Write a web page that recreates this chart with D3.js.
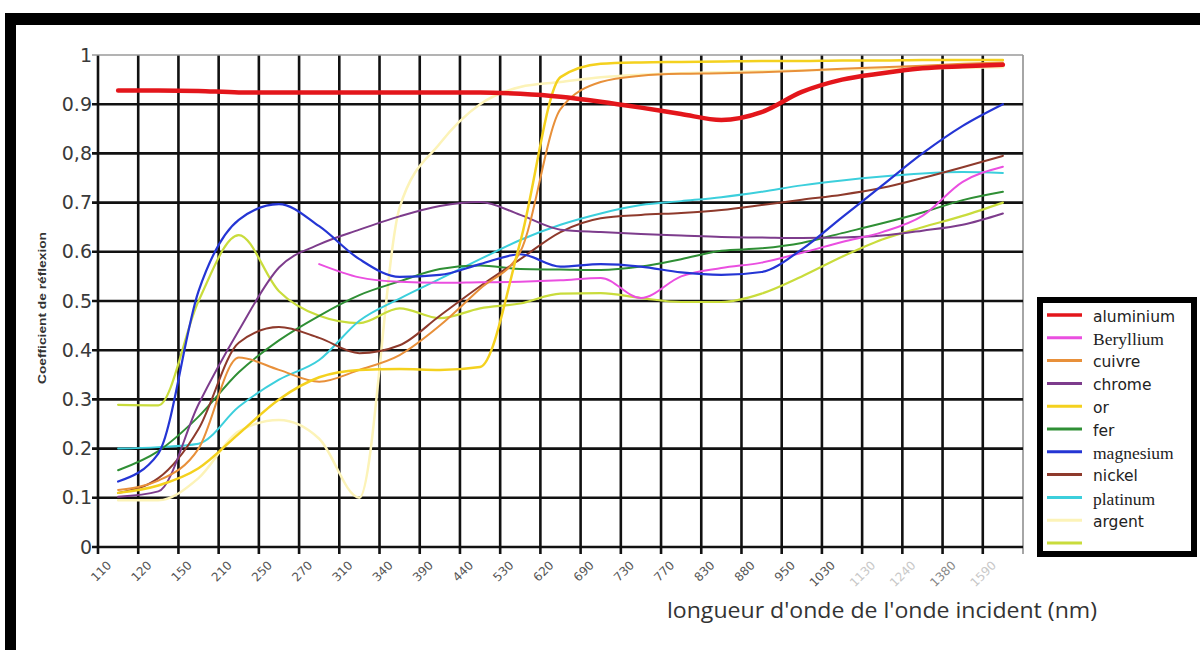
<!DOCTYPE html>
<html>
<head>
<meta charset="utf-8">
<script src="https://cdn.jsdelivr.net/npm/d3@7/dist/d3.min.js"></script>
<style>
  html, body { margin: 0; padding: 0; background: #fff; }
  svg { display: block; }
</style>
</head>
<body>
<svg id="chart" width="1200" height="650"></svg>
<script>
// Wavelength categories (nm) on the horizontal axis
const categories = ["110","120","150","210","250","270","310","340","390","440","530","620",
                    "690","730","770","830","880","950","1030","1130","1240","1380","1590"];

// Reflection coefficient per metal, one value per wavelength category
const aluminium = [0.928,0.928,0.927,0.924,0.924,0.924,0.924,0.924,0.924,0.924,0.921,0.915,
                   0.905,0.893,0.880,0.868,0.884,0.925,0.950,0.963,0.973,0.977,0.980];
const beryllium = [null,null,null,null,null,0.575,0.548,0.539,0.537,0.538,0.539,0.542,
                   0.547,0.506,0.550,0.567,0.578,0.598,0.620,0.640,0.673,0.742,0.773];
const cuivre    = [0.116,0.135,0.200,0.385,0.360,0.336,0.360,0.390,0.450,0.525,0.600,0.890,
                   0.945,0.958,0.962,0.963,0.965,0.968,0.972,0.975,0.978,0.982,0.985];
const chrome    = [0.102,0.113,0.290,0.440,0.568,0.615,0.645,0.672,0.693,0.701,0.675,0.645,
                   0.640,0.636,0.633,0.630,0.629,0.628,0.629,0.633,0.643,0.655,0.678];
const or        = [0.110,0.125,0.160,0.230,0.300,0.345,0.360,0.362,0.360,0.366,0.620,0.955,
                   0.982,0.985,0.986,0.987,0.988,0.988,0.989,0.989,0.990,0.990,0.990];
const fer       = [0.156,0.195,0.265,0.355,0.420,0.470,0.512,0.540,0.565,0.572,0.565,0.564,
                   0.563,0.570,0.585,0.602,0.607,0.618,0.638,0.658,0.680,0.705,0.722];
const magnesium = [0.133,0.190,0.520,0.665,0.697,0.652,0.585,0.549,0.553,0.575,0.595,0.570,
                   0.575,0.570,0.558,0.553,0.559,0.605,0.670,0.735,0.800,0.856,0.900];
const nickel    = [0.110,0.140,0.240,0.415,0.447,0.425,0.394,0.410,0.470,0.530,0.585,0.640,
                   0.668,0.675,0.679,0.685,0.695,0.706,0.716,0.730,0.750,0.772,0.795];
const platinum  = [0.200,0.203,0.210,0.285,0.340,0.380,0.460,0.505,0.545,0.585,0.624,0.655,
                   0.678,0.695,0.703,0.711,0.722,0.735,0.745,0.753,0.759,0.762,0.760];
const argent    = [0.095,0.095,0.140,0.235,0.258,0.220,0.100,0.690,0.820,0.900,0.935,0.945,
                   0.955,0.960,0.963,0.965,0.967,0.969,0.970,0.972,0.973,0.974,0.975];
const autre     = [0.289,0.288,0.500,0.634,0.520,0.470,0.455,0.485,0.465,0.485,0.495,0.515,
                   0.516,0.506,0.498,0.498,0.515,0.550,0.590,0.625,0.650,0.673,0.700];

const seriesNames = ["aluminium","Beryllium","cuivre","chrome","or","fer","magnesium",
                     "nickel","platinum","argent",""];
const seriesValues = [aluminium, beryllium, cuivre, chrome, or, fer, magnesium,
                      nickel, platinum, argent, autre];

// Vertical axis ticks and their printed labels
const yTicks = [0,0.1,0.2,0.3,0.4,0.5,0.6,0.7,0.8,0.9,1];
const yTickLabels = ["0","0.1","0.2","0.3","0.4","0.5","0.6","0.7","0,8","0.9","1"];

// Drawing styles
const colors = ["#e3161b","#ea4fe0","#e8903a","#7d3c8c","#f4d11e","#2f8f35","#2435d4",
                "#8e3a2c","#3ccfdc","#fcf3b8","#c9dc3c"];
const widths = [4.5,2,2,2,2.5,2,2.2,2,2,2.5,2.2];
const legendFonts = ["sans","serif","sans","sans","sans","sans","serif","sans","serif","sans","sans"];
const faintTicks = {"1130":"#c8c8c8","1240":"#c8c8c8","1380":"#888","1590":"#c8c8c8"};

const svg = d3.select("#chart");

// Outer frame
svg.append("rect").attr("x",5).attr("y",13).attr("width",1195).attr("height",12).attr("fill","#000");
svg.append("rect").attr("x",5).attr("y",13).attr("width",11).attr("height",637).attr("fill","#000");

const plot = {left: 98, right: 1023, top: 55, bottom: 547};

const x = d3.scaleBand().domain(categories).range([plot.left, plot.right]);
const y = d3.scaleLinear().domain([0,1]).range([plot.bottom, plot.top]);
const cx = c => x(c) + x.bandwidth()/2;

// Grid
const grid = svg.append("g");
const edges = categories.map(c => x(c)).concat([plot.right]);
grid.selectAll("line.v").data(edges).join("line")
  .attr("x1", d => d).attr("x2", d => d)
  .attr("y1", plot.top).attr("y2", plot.bottom + 7)
  .attr("stroke", (d,i) => i === edges.length - 1 ? "#888" : "#111")
  .attr("stroke-width", (d,i) => i === edges.length - 1 ? 1.5 : 2.6);
grid.selectAll("line.h").data(yTicks).join("line")
  .attr("x1", plot.left - 6).attr("x2", plot.right)
  .attr("y1", d => y(d)).attr("y2", d => y(d))
  .attr("stroke", d => d === 1 ? "#9a9a9a" : "#111")
  .attr("stroke-width", d => d === 1 ? 1.5 : 2.6);

// Y tick labels
svg.append("g").selectAll("text").data(yTicks).join("text")
  .attr("x", 92).attr("y", d => y(d))
  .attr("dy", "0.35em")
  .attr("text-anchor", "end")
  .attr("font-family", "'DejaVu Sans', sans-serif")
  .attr("font-size", 19)
  .attr("fill", "#3a3a3a")
  .text((d,i) => yTickLabels[i]);

// X tick labels, rotated
svg.append("g").selectAll("text").data(categories).join("text")
  .attr("transform", c => `translate(${cx(c) - 6},${plot.bottom + 19}) rotate(-45)`)
  .attr("text-anchor", "end")
  .attr("font-family", "'DejaVu Sans', sans-serif")
  .attr("font-size", 12)
  .attr("fill", c => faintTicks[c] || "#555")
  .text(c => c);

// Axis titles
svg.append("text")
  .attr("transform", "translate(46,308) rotate(-90)")
  .attr("text-anchor", "middle")
  .attr("font-family", "'Liberation Sans', Arial, sans-serif")
  .attr("font-weight", "bold")
  .attr("font-size", 11)
  .attr("textLength", 152)
  .attr("lengthAdjust", "spacingAndGlyphs")
  .attr("fill", "#333")
  .text("Coefficient de réflexion");

svg.append("text")
  .attr("x", 667).attr("y", 618)
  .attr("font-family", "'Open Sans', sans-serif")
  .attr("font-size", 21)
  .attr("textLength", 430)
  .attr("lengthAdjust", "spacingAndGlyphs")
  .attr("fill", "#333")
  .text("longueur d'onde de l'onde incident (nm)");

// Curves
const line = d3.line()
  .defined(d => d.v != null)
  .x(d => cx(d.c))
  .y(d => y(d.v))
  .curve(d3.curveMonotoneX);

const drawOrder = [9,10,8,5,7,3,1,6,2,4,0];
svg.append("g").selectAll("path").data(drawOrder).join("path")
  .attr("d", i => line(categories.map((c,k) => ({c, v: seriesValues[i][k]}))))
  .attr("fill", "none")
  .attr("stroke", i => colors[i])
  .attr("stroke-width", i => widths[i])
  .attr("stroke-linejoin", "round")
  .attr("stroke-linecap", "round");

// Legend
const lg = svg.append("g");
lg.append("rect").attr("x", 1040).attr("y", 300).attr("width", 154).attr("height", 254)
  .attr("fill", "#fff").attr("stroke", "#000").attr("stroke-width", 6);
const item = lg.selectAll("g.item").data(seriesNames).join("g")
  .attr("transform", (d,i) => `translate(0,${315 + i*22.8})`);
item.append("line")
  .attr("x1", 1047).attr("x2", 1082).attr("y1", 0).attr("y2", 0)
  .attr("stroke", (d,i) => colors[i])
  .attr("stroke-width", (d,i) => i === 0 ? 3.5 : 3);
item.append("text")
  .attr("x", 1093).attr("y", 2).attr("dy", "0.3em")
  .attr("font-family", (d,i) => legendFonts[i] === "serif" ? "'Liberation Serif', 'DejaVu Serif', serif" : "'DejaVu Sans', sans-serif")
  .attr("font-size", (d,i) => legendFonts[i] === "serif" ? 17.5 : 15.5)
  .attr("fill", "#222")
  .text(d => d);
</script>
</body>
</html>
